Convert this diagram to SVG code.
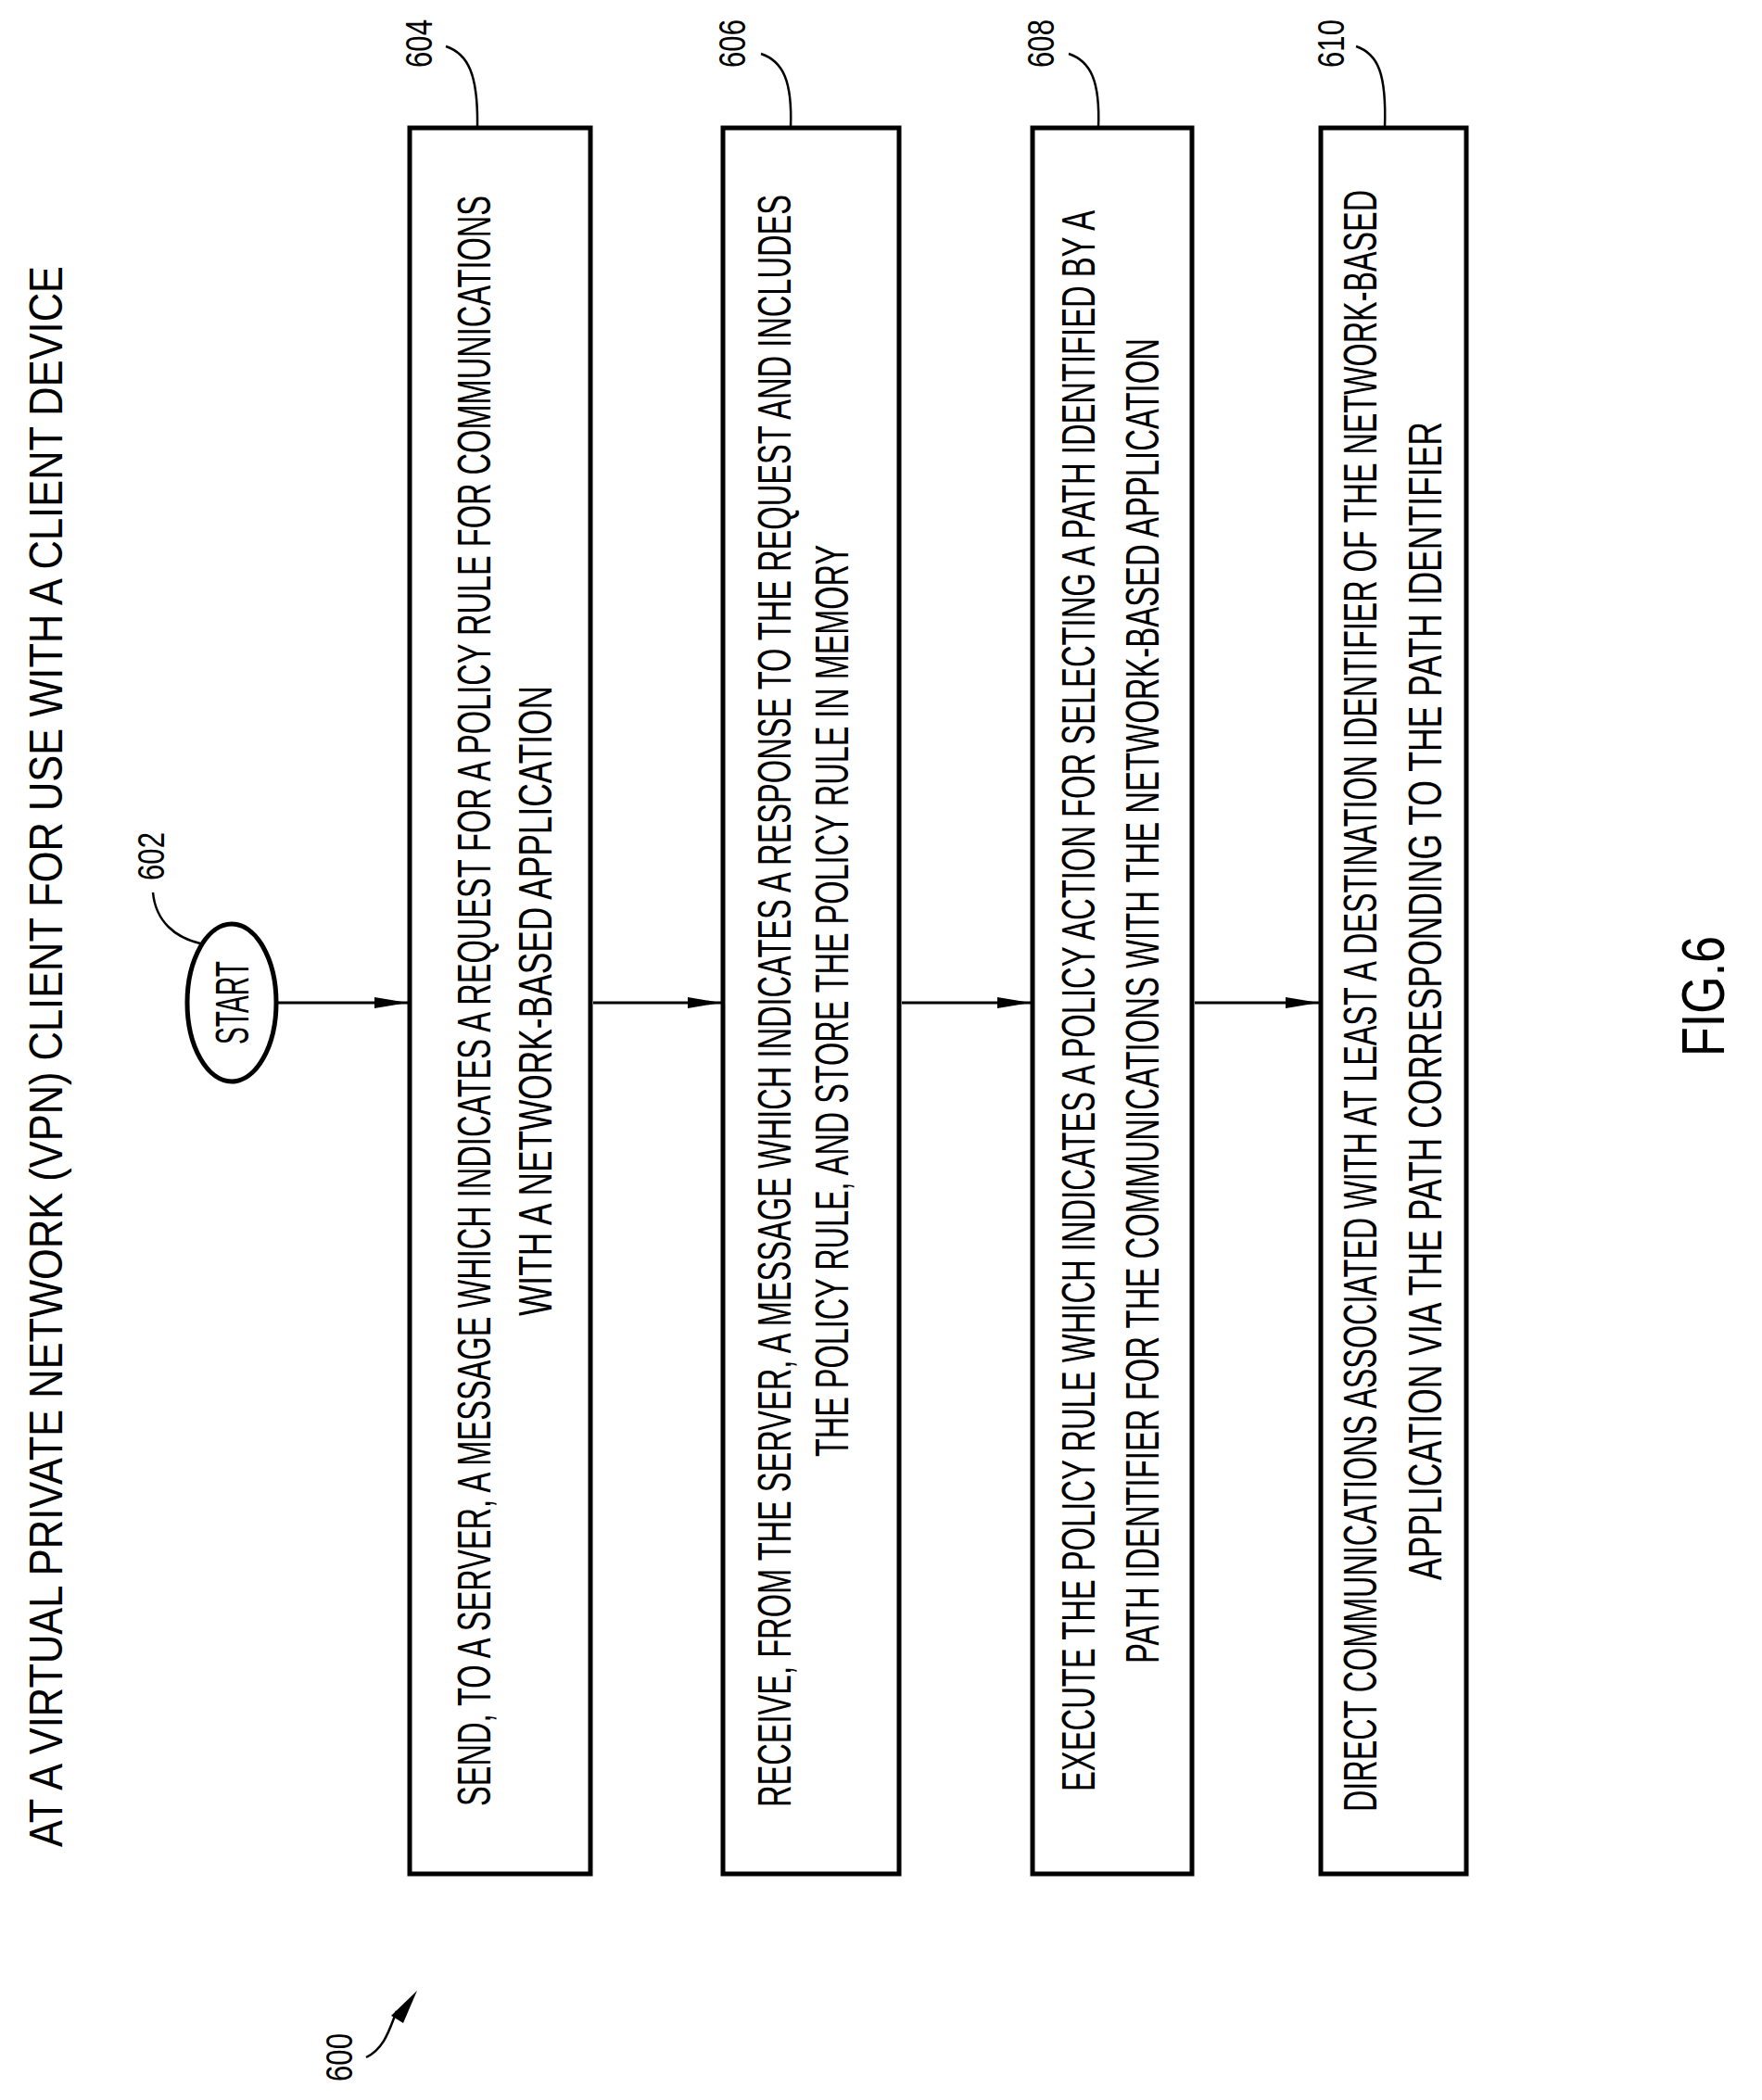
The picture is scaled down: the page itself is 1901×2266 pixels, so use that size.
<svg xmlns="http://www.w3.org/2000/svg" width="1901" height="2266" viewBox="0 0 1901 2266">
<style>
text{font-family:"Liberation Sans",Arial,sans-serif;fill:#000}
.t{font-size:50px}
.lbl{font-size:40px}
.box{fill:none;stroke:#000;stroke-width:5}
.con{fill:none;stroke:#000;stroke-width:3}
.lead{fill:none;stroke:#000;stroke-width:2.5}
</style>
<defs>
<marker id="ah" viewBox="0 0 12 10" refX="12" refY="5" markerWidth="12" markerHeight="10" markerUnits="userSpaceOnUse" orient="auto">
<path d="M0,0 L12,5 L0,10 z" fill="#000"/>
</marker>
<marker id="ah2" viewBox="0 0 36 12" refX="36" refY="6" markerWidth="36" markerHeight="12" markerUnits="userSpaceOnUse" orient="auto">
<path d="M0,0 L36,6 L0,12 z" fill="#000"/>
</marker>
</defs>
<text class="t" transform="translate(67,1140) rotate(-90)" text-anchor="middle" font-size="64" textLength="1706" lengthAdjust="spacingAndGlyphs">AT A VIRTUAL PRIVATE NETWORK (VPN) CLIENT FOR USE WITH A CLIENT DEVICE</text>

<g id="n600">
<text class="lbl" transform="translate(380,2220) rotate(-90)" text-anchor="middle" textLength="52" lengthAdjust="spacingAndGlyphs">600</text>
<path class="lead" d="M395,2220 C415,2210 420,2190 428,2170"/>
<path d="M422,2175 L450,2148 L435,2183 z" fill="#000"/>
</g>

<g id="n602">
<ellipse cx="250" cy="1082" rx="48" ry="85" class="box" stroke-width="3"/>
<text class="t" transform="translate(268,1082) rotate(-90)" text-anchor="middle" textLength="90" lengthAdjust="spacingAndGlyphs">START</text>
<text class="lbl" transform="translate(177,924) rotate(-90)" text-anchor="middle" textLength="52" lengthAdjust="spacingAndGlyphs">602</text>
<path class="lead" d="M165,963 C168,995 190,1012 216,1018"/>
</g>

<g id="n604">
<rect x="442" y="138" width="195" height="1884" class="box"/>
<text class="t" transform="translate(529,1080) rotate(-90)" text-anchor="middle" textLength="1738" lengthAdjust="spacingAndGlyphs">SEND, TO A SERVER, A MESSAGE WHICH INDICATES A REQUEST FOR A POLICY RULE FOR COMMUNICATIONS</text>
<text class="t" transform="translate(595,1080) rotate(-90)" text-anchor="middle" textLength="680" lengthAdjust="spacingAndGlyphs">WITH A NETWORK-BASED APPLICATION</text>
<text class="lbl" transform="translate(466,47) rotate(-90)" text-anchor="middle" textLength="52" lengthAdjust="spacingAndGlyphs">604</text>
<path class="lead" d="M481,50 C505,58 516,80 515,138"/>
</g>

<g id="n606">
<rect x="780" y="138" width="190" height="1884" class="box"/>
<text class="t" transform="translate(853,1080) rotate(-90)" text-anchor="middle" textLength="1740" lengthAdjust="spacingAndGlyphs">RECEIVE, FROM THE SERVER, A MESSAGE WHICH INDICATES A RESPONSE TO THE REQUEST AND INCLUDES</text>
<text class="t" transform="translate(915,1080) rotate(-90)" text-anchor="middle" textLength="984" lengthAdjust="spacingAndGlyphs">THE POLICY RULE, AND STORE THE POLICY RULE IN MEMORY</text>
<text class="lbl" transform="translate(804,47) rotate(-90)" text-anchor="middle" textLength="52" lengthAdjust="spacingAndGlyphs">606</text>
<path class="lead" d="M821,58 C845,66 855,88 853,138"/>
</g>

<g id="n608">
<rect x="1114" y="138" width="172" height="1884" class="box"/>
<text class="t" transform="translate(1181,1080) rotate(-90)" text-anchor="middle" textLength="1706" lengthAdjust="spacingAndGlyphs">EXECUTE THE POLICY RULE WHICH INDICATES A POLICY ACTION FOR SELECTING A PATH IDENTIFIED BY A</text>
<text class="t" transform="translate(1250,1080) rotate(-90)" text-anchor="middle" textLength="1430" lengthAdjust="spacingAndGlyphs">PATH IDENTIFIER FOR THE COMMUNICATIONS WITH THE NETWORK-BASED APPLICATION</text>
<text class="lbl" transform="translate(1137,47) rotate(-90)" text-anchor="middle" textLength="52" lengthAdjust="spacingAndGlyphs">608</text>
<path class="lead" d="M1153,58 C1177,66 1187,88 1185,138"/>
</g>

<g id="n610">
<rect x="1425" y="138" width="157" height="1884" class="box"/>
<text class="t" transform="translate(1485,1080) rotate(-90)" text-anchor="middle" textLength="1750" lengthAdjust="spacingAndGlyphs">DIRECT COMMUNICATIONS ASSOCIATED WITH AT LEAST A DESTINATION IDENTIFIER OF THE NETWORK-BASED</text>
<text class="t" transform="translate(1555,1080) rotate(-90)" text-anchor="middle" textLength="1250" lengthAdjust="spacingAndGlyphs">APPLICATION VIA THE PATH CORRESPONDING TO THE PATH IDENTIFIER</text>
<text class="lbl" transform="translate(1450,47) rotate(-90)" text-anchor="middle" textLength="52" lengthAdjust="spacingAndGlyphs">610</text>
<path class="lead" d="M1463,50 C1487,58 1496,80 1494,138"/>
</g>

<g id="fig">
<text transform="translate(1860,1075) rotate(-90)" text-anchor="middle" font-size="64" textLength="130" lengthAdjust="spacingAndGlyphs">FIG.6</text>
</g>

<g id="connectors">
<line class="con" x1="298" y1="1082" x2="440" y2="1082" marker-end="url(#ah2)"/>
<line class="con" x1="640" y1="1082" x2="778" y2="1082" marker-end="url(#ah2)"/>
<line class="con" x1="973" y1="1082" x2="1112" y2="1082" marker-end="url(#ah2)"/>
<line class="con" x1="1289" y1="1082" x2="1423" y2="1082" marker-end="url(#ah2)"/>
</g>
</svg>
